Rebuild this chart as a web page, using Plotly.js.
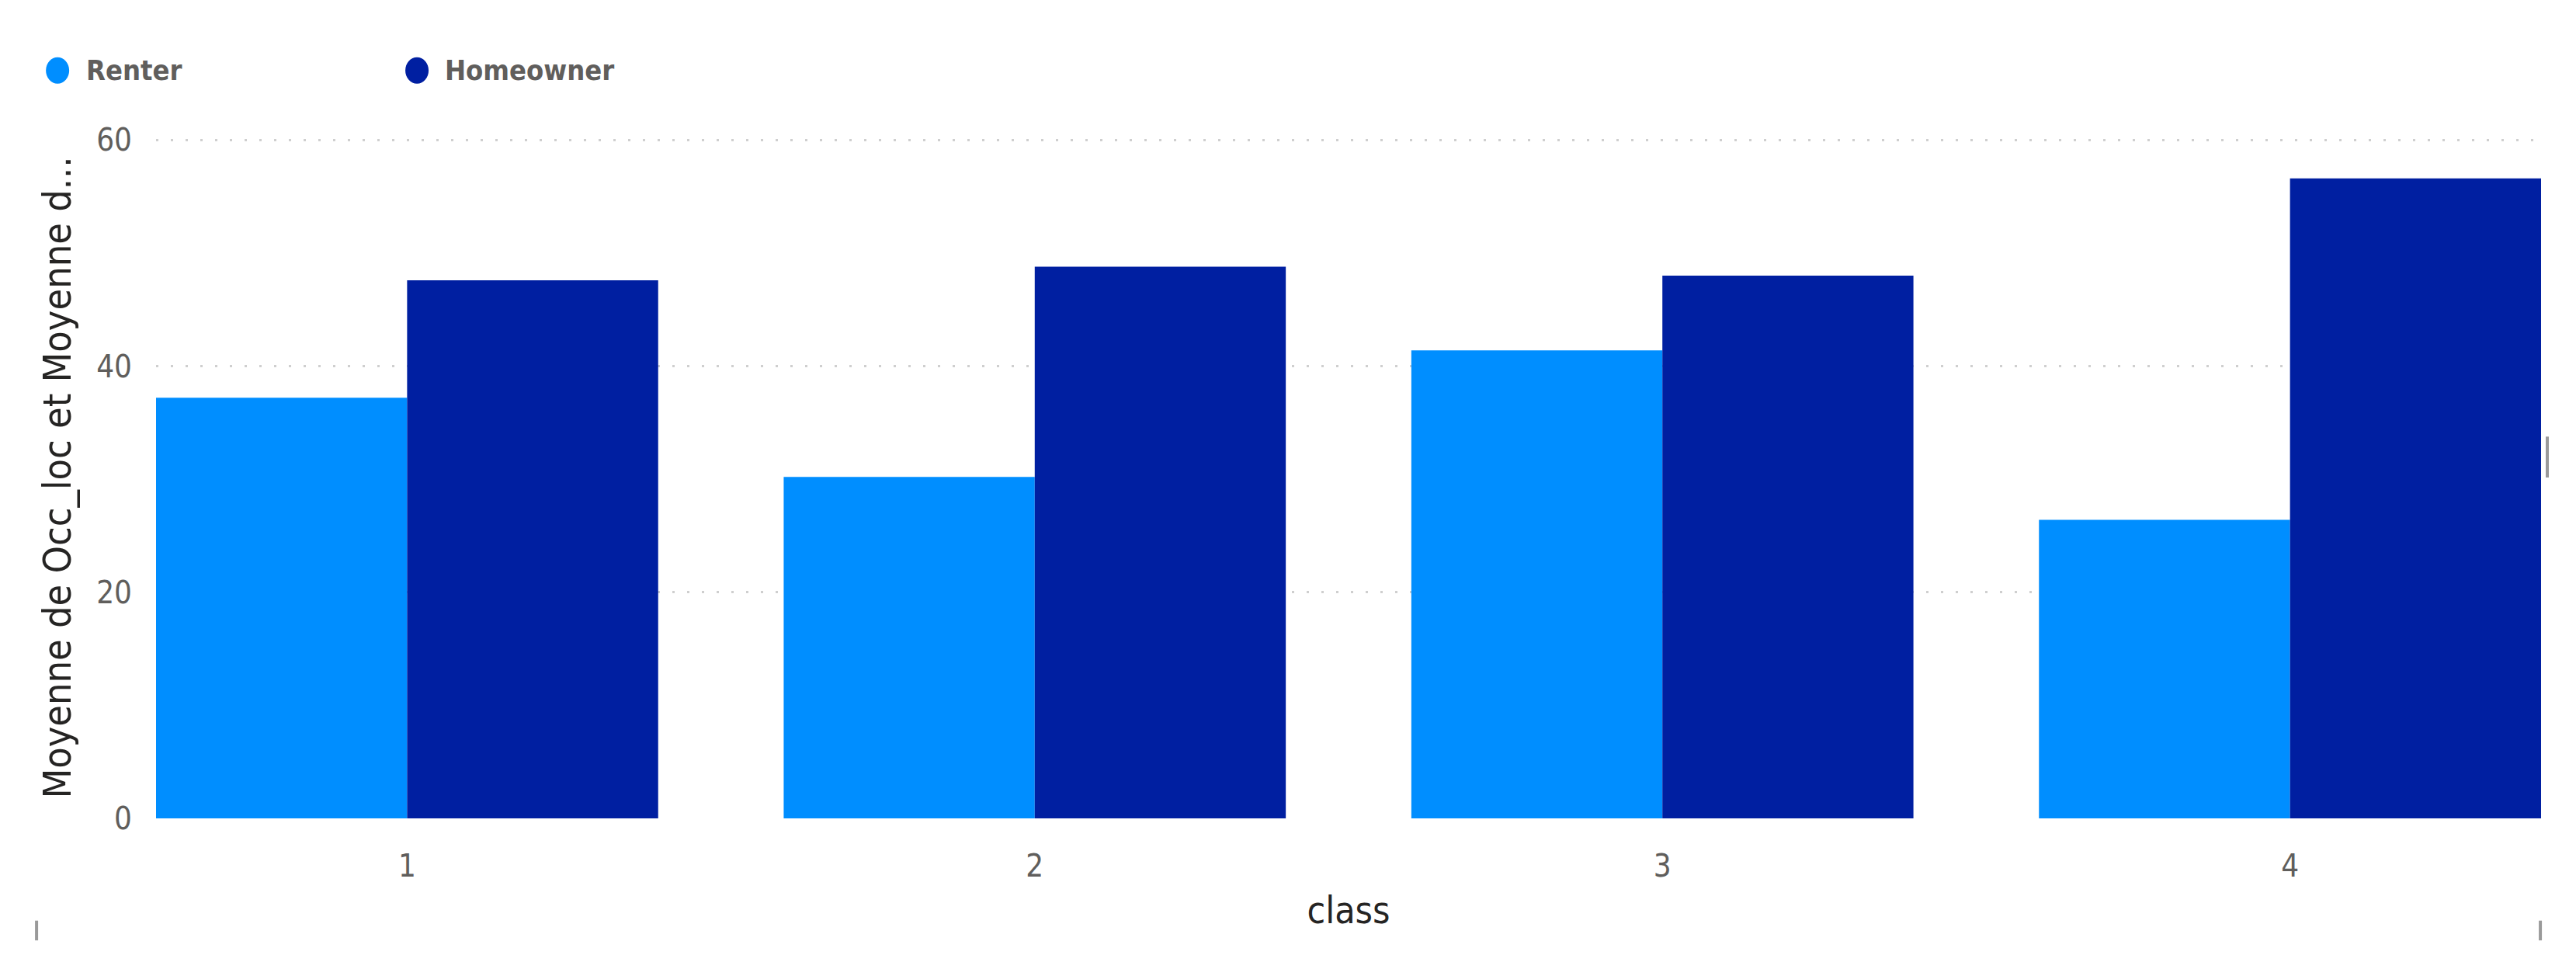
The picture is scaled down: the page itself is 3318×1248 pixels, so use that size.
<!DOCTYPE html>
<html>
<head>
<meta charset="utf-8">
<script src="https://cdn.plot.ly/plotly-3.0.1.min.js"></script>
<style>
  html, body { margin: 0; padding: 0; background: #ffffff; }
  #chart { width: 3318px; height: 1248px; }
</style>
</head>
<body>
<div id="chart"></div>
<script>
// values
const classes = ['1', '2', '3', '4'];
const renter = [37.2, 30.2, 41.4, 26.4];
const homeowner = [47.6, 48.8, 48.0, 56.6];
const seriesNames = ['Renter', 'Homeowner'];
const seriesColors = ['#008EFF', '#001FA1'];
const yTicks = [0, 20, 40, 60];

const FONT = '"Liberation Sans Narrow", "DejaVu Sans Condensed", "Liberation Sans", Arial, sans-serif';
const GREY = '#605E5C';
const DARK = '#252423';

const data = [
  {
    x: classes,
    y: renter,
    type: 'bar',
    name: seriesNames[0],
    marker: { color: seriesColors[0] },
    showlegend: false,
    hoverinfo: 'x+y+name',
  },
  {
    x: classes,
    y: homeowner,
    type: 'bar',
    name: seriesNames[1],
    marker: { color: seriesColors[1] },
    showlegend: false,
    hoverinfo: 'x+y+name',
  },
];

// Power BI style legend: round dots + grey labels above the plot
const legendX = [-0.0413, 0.1094];
const legendShapes = seriesColors.map((c, i) => ({
  type: 'circle',
  xref: 'paper', yref: 'paper',
  xsizemode: 'pixel', ysizemode: 'pixel',
  xanchor: legendX[i], yanchor: 1.097,
  x0: -15, x1: 15, y0: -17, y1: 17,
  fillcolor: c,
  line: { width: 0 },
}));
const legendLabels = seriesNames.map((n, i) => ({
  text: n,
  xref: 'paper', yref: 'paper',
  x: legendX[i] + 0.0112, y: 1.097,
  xanchor: 'left', yanchor: 'middle',
  showarrow: false,
  font: { family: FONT, size: 36, color: GREY, weight: 600 },
}));

// little grey frame marks of the visual container
const frameMarks = [
  { x: 1.0026, y0: 0.50, y1: 0.56 },
  { x: 0.9997, y0: -0.179, y1: -0.150 },
  { x: -0.0501, y0: -0.179, y1: -0.150 },
].map((m) => ({
  type: 'line', xref: 'paper', yref: 'paper',
  x0: m.x, x1: m.x, y0: m.y0, y1: m.y1,
  line: { color: '#9a9a9a', width: 4 },
}));

const layout = {
  width: 3318,
  height: 1248,
  margin: { l: 201, r: 45, t: 176, b: 194, pad: 0 },
  paper_bgcolor: '#ffffff',
  plot_bgcolor: '#ffffff',
  font: { family: FONT, color: GREY, size: 40 },
  barmode: 'group',
  bargap: 0.2,
  bargroupgap: 0,
  showlegend: false,
  xaxis: {
    type: 'category',
    range: [-0.4, 3.4],
    showgrid: false,
    zeroline: false,
    showline: false,
    ticks: '',
    ticklabelstandoff: 34,
    tickfont: { family: FONT, size: 40, color: GREY },
    title: {
      text: 'class',
      font: { family: FONT, size: 48, color: DARK },
      standoff: 18,
    },
  },
  yaxis: {
    range: [0, 60.3],
    tickvals: yTicks,
    showgrid: true,
    gridcolor: '#cfcfcf',
    gridwidth: 3,
    griddash: '3px,16px',
    zeroline: false,
    showline: false,
    ticks: '',
    ticklabelstandoff: 30,
    tickfont: { family: FONT, size: 40, color: GREY },
    title: {
      text: 'Moyenne de Occ_loc et Moyenne d...',
      font: { family: FONT, size: 50, color: DARK, weight: 500 },
      standoff: 16,
    },
  },
  shapes: legendShapes.concat(frameMarks),
  annotations: legendLabels,
};

Plotly.newPlot('chart', data, layout, { staticPlot: true, displayModeBar: false });
</script>
</body>
</html>
